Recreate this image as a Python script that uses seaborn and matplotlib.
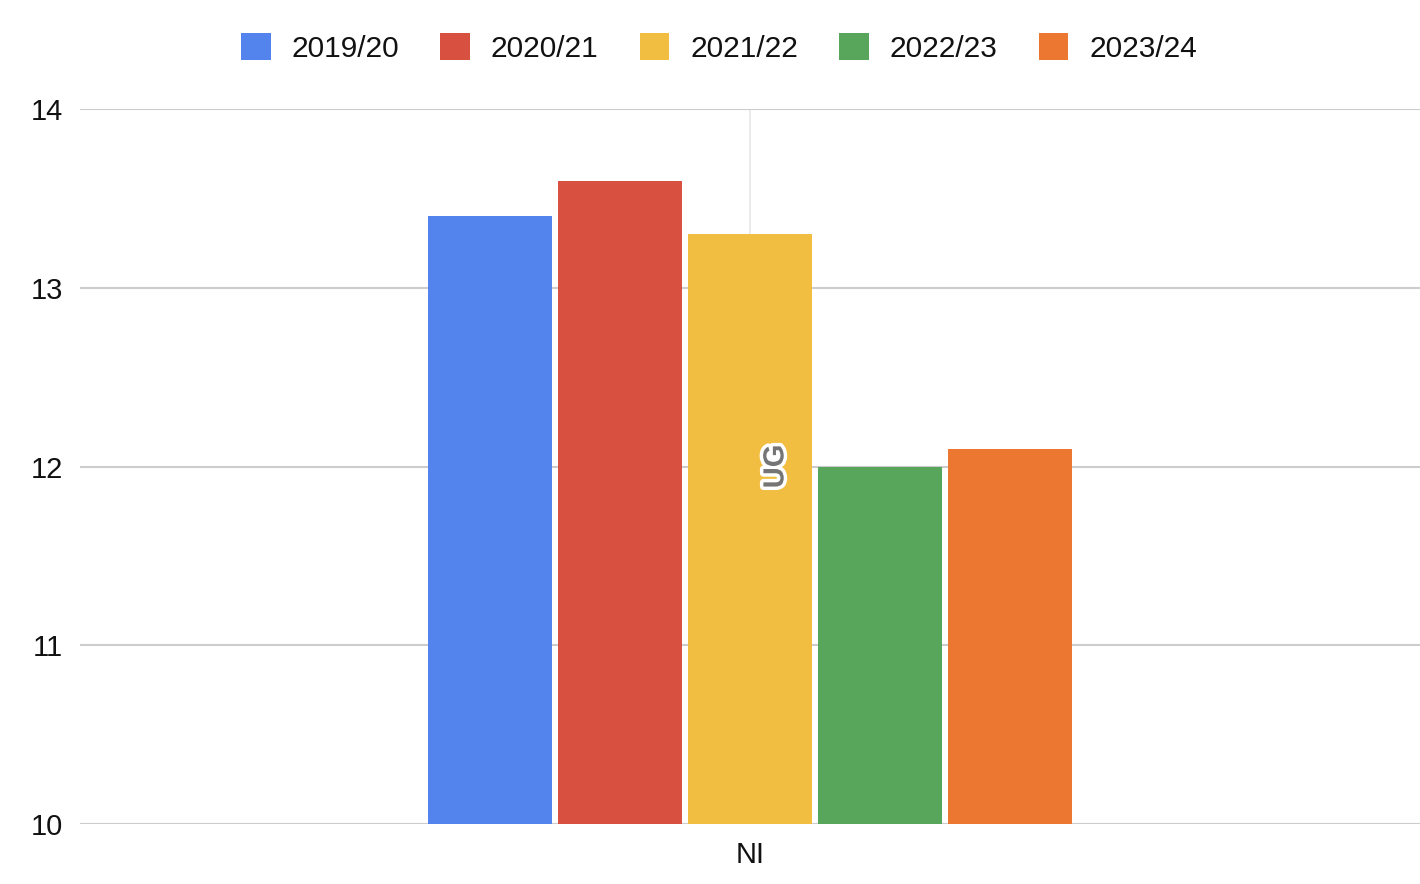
import matplotlib
matplotlib.use("Agg")
import matplotlib.pyplot as plt
import matplotlib.patheffects as pe
import seaborn as sns
import pandas as pd

categories = ["NI"]
seasons = ["2019/20", "2020/21", "2021/22", "2022/23", "2023/24"]
values = [13.4, 13.6, 13.3, 12.0, 12.1]
colors = ["#5383ec", "#d85140", "#f1be42", "#58a65c", "#eb7731"]
yticks = [10, 11, 12, 13, 14]
annotation = "UG"

df = pd.DataFrame({"category": categories * len(seasons),
                   "season": seasons,
                   "value": values})

sns.set_theme(style="white")
plt.rcParams["font.family"] = ["Liberation Sans", "DejaVu Sans"]

fig = plt.figure(figsize=(14.2, 8.84), dpi=100)
ax = fig.add_axes([80 / 1420, 1 - 824 / 884, 1 - 80 / 1420, (824 - 109) / 884])

sns.barplot(data=df, x="category", y="value", hue="season", hue_order=seasons,
            palette=colors, width=0.485, gap=0.04, saturation=1, ax=ax,
            legend=True, zorder=3, linewidth=0)

ax.set_xlim(-0.5, 0.5)
ax.set_ylim(10, 14)
ax.set_yticks(yticks)
ax.set_yticklabels([str(t) for t in yticks])
ax.set_xlabel("")
ax.set_ylabel("")
for s in ax.spines.values():
    s.set_visible(False)
ax.grid(axis="y", color="#cccccc", linewidth=1.5, zorder=0)
ax.grid(axis="x", color="#e8e8e8", linewidth=1.2, zorder=0)
ax.set_axisbelow(True)
ax.tick_params(axis="both", length=0, labelsize=21, colors="#111111")
ax.tick_params(axis="y", pad=12)
ax.tick_params(axis="x", pad=12)

ax.text(0.019, 12.0, annotation, rotation=90, ha="center", va="center",
        fontsize=21, fontweight="bold", color="#757575", zorder=5,
        path_effects=[pe.withStroke(linewidth=5, foreground="white")])

handles, labels = ax.get_legend_handles_labels()
ax.legend_.remove()
fig.legend(handles, labels, loc="center", bbox_to_anchor=(0.5063, 1 - 48 / 884),
           ncol=5, frameon=False, fontsize=21.5, handlelength=1.0, handleheight=1.0,
           handletextpad=0.7, columnspacing=1.37, labelcolor="#111111")

fig.savefig("out.png", dpi=100)
